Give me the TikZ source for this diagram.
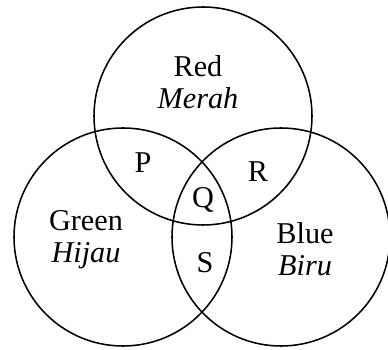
\documentclass[tikz,border=0pt]{standalone}
\usepackage{fontspec}
\setmainfont{Liberation Serif}
\usepackage{tikz}
\tikzset{
  ring/.style ={draw, circle, line width=1.1pt, minimum size=5.45cm, inner sep=0pt},
  lbl/.style  ={align=center, font=\fontsize{21.5}{23}\selectfont},
  tag/.style  ={font=\fontsize{21.5}{23}\selectfont},
}

\begin{document}
\begin{tikzpicture}
  \useasboundingbox (0,0) rectangle (9.7,8.75);
  \node[ring] (R) at (5.075,5.85)  {};
  \node[ring] (G) at (3.075,2.825) {};
  \node[ring] (B) at (7.025,2.825) {};
  \node[lbl] (RL) at (4.95,6.7)   {Red\\ \textit{Merah}};
  \node[lbl] (GL) at (2.15,2.75)  {Green\\ \textit{Hijau}};
  \node[lbl] (BL) at (7.625,2.525){Blue\\ \textit{Biru}};
  \node[tag] (P) at (3.575,4.675) {P};
  \node[tag] (Rr) at (6.45,4.45)  {R};
  \node[tag] (Q) at (5.075,3.75)  {Q};
  \node[tag] (S) at (5.125,2.175) {S};
\end{tikzpicture}
\end{document}
